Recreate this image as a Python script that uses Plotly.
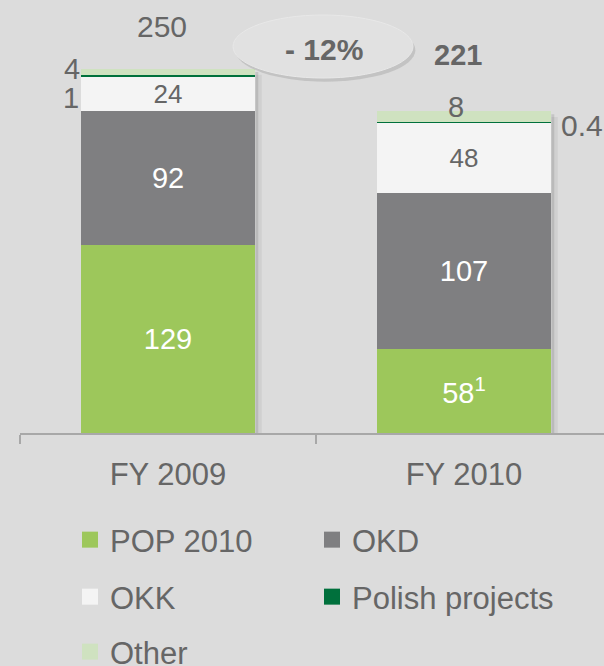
import plotly.graph_objects as go

# ---- data ----
categories = ["FY 2009", "FY 2010"]
pop_2010 = [129, 58]
okd = [92, 107]
okk = [24, 48]
polish_projects = [1, 0.4]
other = [4, 8]
totals = [250, 221]
pop_labels = ["129", "58<sup>1</sup>"]

# ---- styles ----
FONT = "Liberation Sans, Arial, sans-serif"
TXT = "#666666"
BG = "#dcdcdc"
C_POP = "#9dc75b"
C_OKD = "#7f7f81"
C_OKK = "#f4f4f4"
C_POL = "#00703c"
C_OTH = "#cfe2c0"
BAR_W = 0.59

fig = go.Figure()

series = [
    ("POP 2010", pop_2010, C_POP, pop_labels, "white", 29, "legend"),
    ("OKD", okd, C_OKD, [f"{v:g}" for v in okd], "white", 29, "legend"),
    ("OKK", okk, C_OKK, [f"{v:g}" for v in okk], TXT, 26, "legend2"),
    ("Polish projects", polish_projects, C_POL, None, None, None, "legend2"),
    ("Other", other, C_OTH, None, None, None, "legend3"),
]

for name, vals, col, labels, tcol, tsize, leg in series:
    if labels is not None:
        kw = dict(text=labels, textposition="inside", insidetextanchor="middle",
                  textangle=0,
                  textfont=dict(family=FONT, size=tsize, color=tcol),
                  constraintext="none")
    else:
        kw = dict(textposition="none")
    fig.add_trace(go.Bar(x=categories, y=vals, name=name, width=BAR_W,
                         marker=dict(color=col, line=dict(width=0)),
                         showlegend=False, hoverinfo="skip", **kw))
    # legend proxy with larger square symbol
    fig.add_trace(go.Scatter(x=[None], y=[None], mode="markers", name=name,
                             marker=dict(symbol="square", size=16, color=col),
                             legend=leg, showlegend=True, hoverinfo="skip"))

# bar shadows
shapes = []
for i, t in enumerate(totals):
    xr = i + BAR_W / 2
    shapes.append(dict(type="rect", xref="x", yref="y", layer="below",
                       x0=xr, x1=xr + 0.01, y0=0, y1=t - 2,
                       fillcolor="rgba(0,0,0,0.10)", line=dict(width=0)))
    shapes.append(dict(type="rect", xref="x", yref="y", layer="below",
                       x0=xr, x1=xr + 0.022, y0=-1, y1=t - 4,
                       fillcolor="rgba(0,0,0,0.05)", line=dict(width=0)))

# ellipse with change
EX0, EX1, EY0, EY1 = 0.2196, 0.8277, 243.8, 287.1
shapes.append(dict(type="circle", xref="x", yref="y", layer="above",
                   x0=EX0 + 0.008, x1=EX1 + 0.008, y0=EY0 - 2.5, y1=EY1 - 2.5,
                   fillcolor="rgba(150,150,150,0.35)", line=dict(width=0)))
shapes.append(dict(type="circle", xref="x", yref="y", layer="above",
                   x0=EX0, x1=EX1, y0=EY0, y1=EY1,
                   fillcolor="#e1e1e1", line=dict(width=1, color="#e8e8e8")))

change = round((totals[1] - totals[0]) / totals[0] * 100)
annotations = [
    dict(x=0.527, y=263.5, xref="x", yref="y", text=f"<b>- {abs(change)}%</b>",
         showarrow=False, font=dict(family=FONT, size=30, color=TXT)),
    dict(x=0, y=totals[0], xref="x", yref="y", text=f"{totals[0]}", showarrow=False,
         yshift=43, xshift=-6, font=dict(family=FONT, size=30, color=TXT)),
    dict(x=1, y=totals[1], xref="x", yref="y", text=f"<b>{totals[1]}</b>", showarrow=False,
         yshift=56, xshift=-6, font=dict(family=FONT, size=29, color=TXT)),
]

# small segment labels
base0 = pop_2010[0] + okd[0] + okk[0]
annotations.append(dict(x=-BAR_W / 2, y=base0 + polish_projects[0] + other[0], xref="x", yref="y",
                        text=f"{other[0]:g}", showarrow=False, xanchor="right", xshift=1,
                        yshift=0, font=dict(family=FONT, size=29, color=TXT)))
annotations.append(dict(x=-BAR_W / 2, y=base0, xref="x", yref="y",
                        text=f"{polish_projects[0]:g}", showarrow=False, xanchor="right", xshift=0,
                        yshift=-22, font=dict(family=FONT, size=29, color=TXT)))
base1 = pop_2010[1] + okd[1] + okk[1] + polish_projects[1]
annotations.append(dict(x=1 - 0.027, y=base1 + other[1] / 2, xref="x", yref="y",
                        text=f"{other[1]:g}", showarrow=False, yshift=9,
                        font=dict(family=FONT, size=29, color=TXT)))
annotations.append(dict(x=1 + BAR_W / 2, y=base1 - polish_projects[1], xref="x", yref="y",
                        text=f"{polish_projects[1]:g}", showarrow=False, xanchor="left", xshift=8,
                        yshift=-3, font=dict(family=FONT, size=30, color=TXT)))

leg_common = dict(orientation="h", xref="container", yref="container", xanchor="left",
                  yanchor="middle", entrywidth=197, entrywidthmode="pixels",
                  traceorder="normal",
                  font=dict(family=FONT, size=31, color=TXT), bgcolor="rgba(0,0,0,0)",
                  itemclick=False, itemdoubleclick=False)

fig.update_layout(
    width=604, height=666,
    margin=dict(l=20, r=0, t=0, b=233),
    paper_bgcolor=BG, plot_bgcolor=BG,
    barmode="stack", bargap=0,
    font=dict(family=FONT, color=TXT),
    xaxis=dict(range=[-0.5, 1.473], type="category", showgrid=False, zeroline=False,
               showline=True, linecolor="#a8a8a8", linewidth=2,
               ticks="outside", tickson="boundaries", ticklen=9, tickcolor="#a8a8a8", tickwidth=2,
               tickfont=dict(family=FONT, size=31, color=TXT), ticklabelstandoff=13,
               fixedrange=True),
    yaxis=dict(range=[0, 297.4], visible=False, fixedrange=True),
    shapes=shapes,
    annotations=annotations,
    legend=dict(x=70 / 604, y=1 - 540 / 666, **leg_common),
    legend2=dict(x=70 / 604, y=1 - 597 / 666, **leg_common),
    legend3=dict(x=70 / 604, y=1 - 652 / 666, **leg_common),
)

fig.write_html("out.html", config={"displayModeBar": False},
               post_script="document.body.style.margin='0';document.body.style.padding='0';")
